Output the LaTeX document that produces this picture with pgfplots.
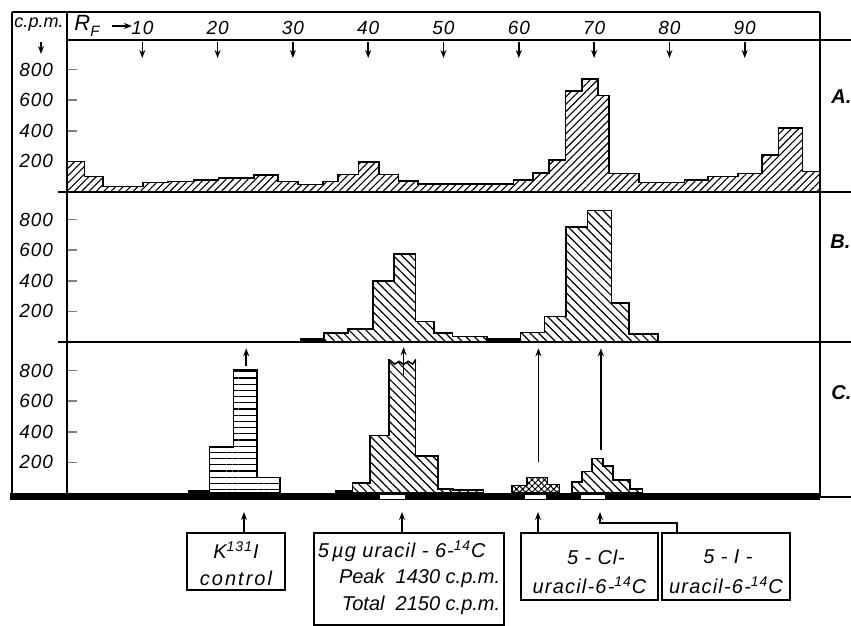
\documentclass[border=0pt]{standalone}
\usepackage{pgfplots}
\pgfplotsset{compat=1.18}
\usetikzlibrary{patterns,patterns.meta,arrows.meta}
\usepackage{fontspec}
\setmainfont{Liberation Sans}
\newcommand\LS[1]{\addfontfeatures{LetterSpace=#1}}

\tikzset{
  NE/.style={pattern={Lines[angle=45,distance=2.6pt,line width=0.55pt]}},
  NW/.style={pattern={Lines[angle=-45,distance=3pt,line width=0.6pt]}},
  HL/.style={pattern={Lines[angle=0,distance=3.1pt,line width=0.6pt]}},
  XH/.style={pattern={Hatch[angle=45,distance=2.2pt,line width=0.5pt]}},
  arr/.style={-{Stealth[length=4pt,width=3pt]}, line width=0.8pt},
}
\pgfplotsset{
  panel/.style={
    scale only axis, width=376.5pt, height=75pt,
    xmin=0, xmax=100, ymin=0, ymax=980,
    axis line style={draw=none},
    xtick=\empty, ytick={200,400,600,800}, ytick pos=left,
    tick align=inside, major tick length=5pt,
    major tick style={line width=0.8pt},
    yticklabel style={font=\itshape\fontsize{9.5}{10}\selectfont\LS{5}, xshift=-3.5pt},
    /pgf/number format/assume math mode=true,
    clip=false, anchor=south west,
  },
  hist/.style={const plot, draw=black, line width=0.8pt, mark=none},
}

\begin{document}
\begin{tikzpicture}[font=\itshape]
\path[use as bounding box] (0,0) rectangle (425.5pt,313pt);

% ---------- Panel A ----------
\begin{axis}[panel, at={(33.5pt,217pt)},
  xtick={10,20,30,40,50,60,70,80,90}, xtick pos=upper, xticklabel pos=upper,
  xticklabel style={font=\itshape\fontsize{9.5}{10}\selectfont\LS{5}}]
\addplot[hist, NE] coordinates {
 (0,200)(2.3,100)(4.8,37)(10.1,62)(13.4,68)(16.9,80)(20.1,90)(24.8,110)(28,68)
 (30.7,48)(34,68)(36,115)(38.7,195)(41.4,115)(44,73)(46.6,52)(59.3,80)(61.9,125)
 (64,210)(66.2,660)(68.4,740)(70.5,630)(72,120)(76,63)(82,80)(85.1,100)(89.1,120)
 (92.3,240)(94.5,420)(97.7,135)(100,135)} \closedcycle;
\pgfplotsinvokeforeach{10,20,30,40,50,60,70,80,90}{
  \draw[arr] (axis cs:#1,980) -- ++(0,-8pt);
}
\end{axis}

% ---------- Panel B ----------
\begin{axis}[panel, at={(33.5pt,142pt)}]
\addplot[hist, fill=black] coordinates {(31.1,18)(34.1,18)} \closedcycle;
\addplot[hist, NW] coordinates {(34.1,60)(37.3,85)(40.6,400)(43.4,575)(46.3,135)(48.7,60)(51.2,37)(55.8,37)} \closedcycle;
\addplot[hist, fill=black] coordinates {(55.8,18)(60.2,18)} \closedcycle;
\addplot[hist, NW] coordinates {(60.2,63)(63.4,167)(66.3,750)(69.1,860)(72.3,255)(74.6,54)(78.5,54)} \closedcycle;
\end{axis}

% ---------- Panel C ----------
\begin{axis}[panel, at={(33.5pt,66.5pt)}]
\addplot[hist, fill=black] coordinates {(16.2,15)(18.9,15)} \closedcycle;
\addplot[hist, HL] coordinates {(18.9,300)(22.1,805)(25.2,100)(28.3,100)} \closedcycle;
\addplot[hist, fill=black] coordinates {(35.7,15)(37.9,15)} \closedcycle;
\addplot[hist, NW] coordinates {(37.9,65)(40.2,375)(42.8,870)(46.3,240)(49.3,27)(51.3,20)(55.3,20)} \closedcycle;
\addplot[hist, XH] coordinates {(59.1,50)(61.1,100)(63.8,55)(65.4,55)} \closedcycle;
\addplot[hist, NW] coordinates {(67.1,72)(68.4,140)(69.7,225)(71.2,175)(72.5,83)(74.8,27)(76.4,27)} \closedcycle;
% broken top of the uracil peak
\fill[white] (axis cs:42.9,862) -- (axis cs:43.5,842) -- (axis cs:44.1,860) -- (axis cs:44.7,840) -- (axis cs:45.3,860) -- (axis cs:45.9,842) -- (axis cs:46.2,862) -- (axis cs:46.2,880) -- (axis cs:42.9,880) -- cycle;
\draw[line width=0.8pt] (axis cs:42.8,870) -- (axis cs:43.5,842) -- (axis cs:44.1,860) -- (axis cs:44.7,840) -- (axis cs:45.3,860) -- (axis cs:45.9,842) -- (axis cs:46.3,870);
\draw[arr] (axis cs:23.8,833) -- (axis cs:23.8,945);
\draw[arr] (axis cs:44.7,773) -- (axis cs:44.7,953);
\draw[arr] (axis cs:62.6,200) -- (axis cs:62.6,945);
\draw[arr] (axis cs:70.9,280) -- (axis cs:70.9,945);
\end{axis}

% ---------- frame ----------
\begin{scope}[line width=0.9pt]
\draw (6pt,307pt) -- (410pt,307pt);
\draw (6pt,307pt) -- (6pt,66pt);
\draw (33.5pt,307pt) -- (33.5pt,66.5pt);
\draw (410pt,307pt) -- (410pt,64pt);
\draw (33.5pt,293pt) -- (425.5pt,293pt);
\draw (29pt,217pt) -- (425.5pt,217pt);
\draw (29pt,142pt) -- (425.5pt,142pt);
\draw (410pt,64.5pt) -- (425.5pt,64.5pt);
\end{scope}
\fill[black] (5pt,63pt) rectangle (410pt,66.6pt);
\fill[white] (190pt,63.6pt) rectangle (202.5pt,65.6pt);
\fill[white] (262.5pt,63.6pt) rectangle (273pt,65.6pt);
\fill[white] (290.5pt,63.6pt) rectangle (302.5pt,65.6pt);

% ---------- header ----------
\node[font=\itshape\fontsize{9}{10}\selectfont] at (19.5pt,300.5pt) {c.p.m.};
\draw[arr, line width=0.6pt] (20.5pt,292pt) -- (20.5pt,286pt);
\node[anchor=west, inner sep=0pt, font=\itshape\fontsize{11}{12}\selectfont] at (37pt,300pt) {R\raisebox{-0.45ex}{\fontsize{7.5}{8}\selectfont F}};
\draw[arr, line width=0.9pt] (56pt,300pt) -- (66pt,300pt);

% ---------- panel labels ----------
\node[anchor=west, font=\bfseries\itshape\fontsize{10}{11}\selectfont, inner sep=0pt] at (415.5pt,264.5pt) {A.};
\node[anchor=west, font=\bfseries\itshape\fontsize{10}{11}\selectfont, inner sep=0pt] at (415pt,192pt) {B.};
\node[anchor=west, font=\bfseries\itshape\fontsize{10}{11}\selectfont, inner sep=0pt] at (415.5pt,116.5pt) {C.};

% ---------- bottom boxes ----------
\begin{scope}[font=\itshape\fontsize{10}{12}\selectfont, line width=0.8pt]
\draw (93.5pt,46.5pt) rectangle (142.5pt,18pt);
\node at (118pt,38pt) {\LS{8}K\textsuperscript{131}I};
\node at (118pt,24pt) {\LS{10}control};
\draw[arr] (122pt,46.5pt) -- (122pt,57pt);

\draw (157pt,46.5pt) rectangle (252pt,0.5pt);
\node[anchor=west, inner sep=1.5pt] at (157pt,37.5pt) {\LS{5}5\,µg uracil - 6-\textsuperscript{14}C};
\node[anchor=east, inner sep=1.5pt] at (252pt,24pt) {Peak\ \ 1430 c.p.m.};
\node[anchor=east, inner sep=1.5pt] at (252pt,10.5pt) {Total\ \ 2150 c.p.m.};
\draw[arr] (201pt,46.5pt) -- (201pt,57pt);

\draw (260.5pt,46.5pt) rectangle (329pt,13pt);
\node at (298pt,34.5pt) {\LS{4}5 - Cl-};
\node at (294.75pt,20.5pt) {\LS{6}uracil-6-\textsuperscript{14}C};
\draw[arr] (269pt,46.5pt) -- (269pt,57pt);

\draw (331pt,46.5pt) rectangle (395pt,13pt);
\node at (364pt,34.5pt) {\LS{4}5 - I -};
\node at (363pt,20.5pt) {\LS{6}uracil-6-\textsuperscript{14}C};
\draw[arr] (338.5pt,46.5pt) -- (338.5pt,51.5pt) -- (300pt,51.5pt) -- (300pt,57pt);
\end{scope}
\end{tikzpicture}
\end{document}
